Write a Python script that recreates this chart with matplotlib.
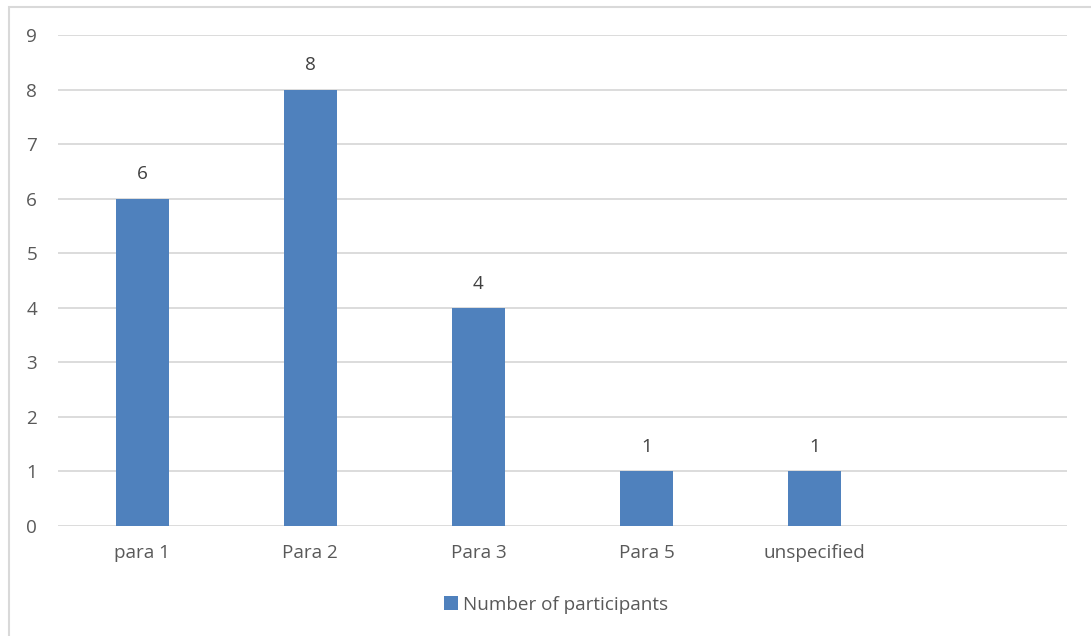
import matplotlib
matplotlib.use("Agg")
import matplotlib.pyplot as plt
from matplotlib.patches import Rectangle

categories = ["para 1", "Para 2", "Para 3", "Para 5", "unspecified", ""]
values = [6, 8, 4, 1, 1, None]
series_name = "Number of participants"
yticks = list(range(0, 10))

plt.rcParams['font.family'] = ['Open Sans', 'DejaVu Sans']
W, H = 1091, 636
fig = plt.figure(figsize=(W / 100, H / 100), dpi=100)
ax = fig.add_axes([58 / W, 1 - 526 / H, (1067 - 58) / W, (526 - 35) / H])

txt = "#595959"
bar_color = "#4F81BD"
fs = 13.6
xs = [i for i, v in enumerate(values) if v is not None]
vs = [v for v in values if v is not None]
bars = ax.bar(xs, vs, width=0.315, color=bar_color, linewidth=0,
              label=series_name, zorder=3)
for x, v in zip(xs, vs):
    ax.annotate(str(v), (x, v), xytext=(0, 11), textcoords="offset points",
                ha="center", va="bottom", fontsize=fs, color="#404040")

ax.set_xlim(-0.5, len(categories) - 0.5)
ax.set_ylim(0, 9)
ax.set_yticks(yticks)
ax.set_xticks(range(len(categories)))
ax.set_xticklabels(categories)
ax.tick_params(axis="both", length=0, labelsize=fs, labelcolor=txt)
ax.tick_params(axis="y", pad=15)
ax.tick_params(axis="x", pad=13)
ax.grid(axis="y", color="#D9D9D9", linewidth=1.3, zorder=0)
for s in ax.spines.values():
    s.set_visible(False)

leg = fig.legend(handles=[bars], labels=[series_name], loc="center",
                 bbox_to_anchor=(556 / W, 1 - 605 / H), frameon=False,
                 fontsize=fs, handlelength=0.75, handleheight=0.75,
                 handletextpad=0.3, labelcolor=txt)

fig.patches.append(Rectangle((9 / W, -0.1), 1.2, 1 - 7 / H + 0.1, transform=fig.transFigure,
                             fill=False, edgecolor="#D9D9D9", linewidth=1.5))

fig.savefig("out.png", dpi=100)
